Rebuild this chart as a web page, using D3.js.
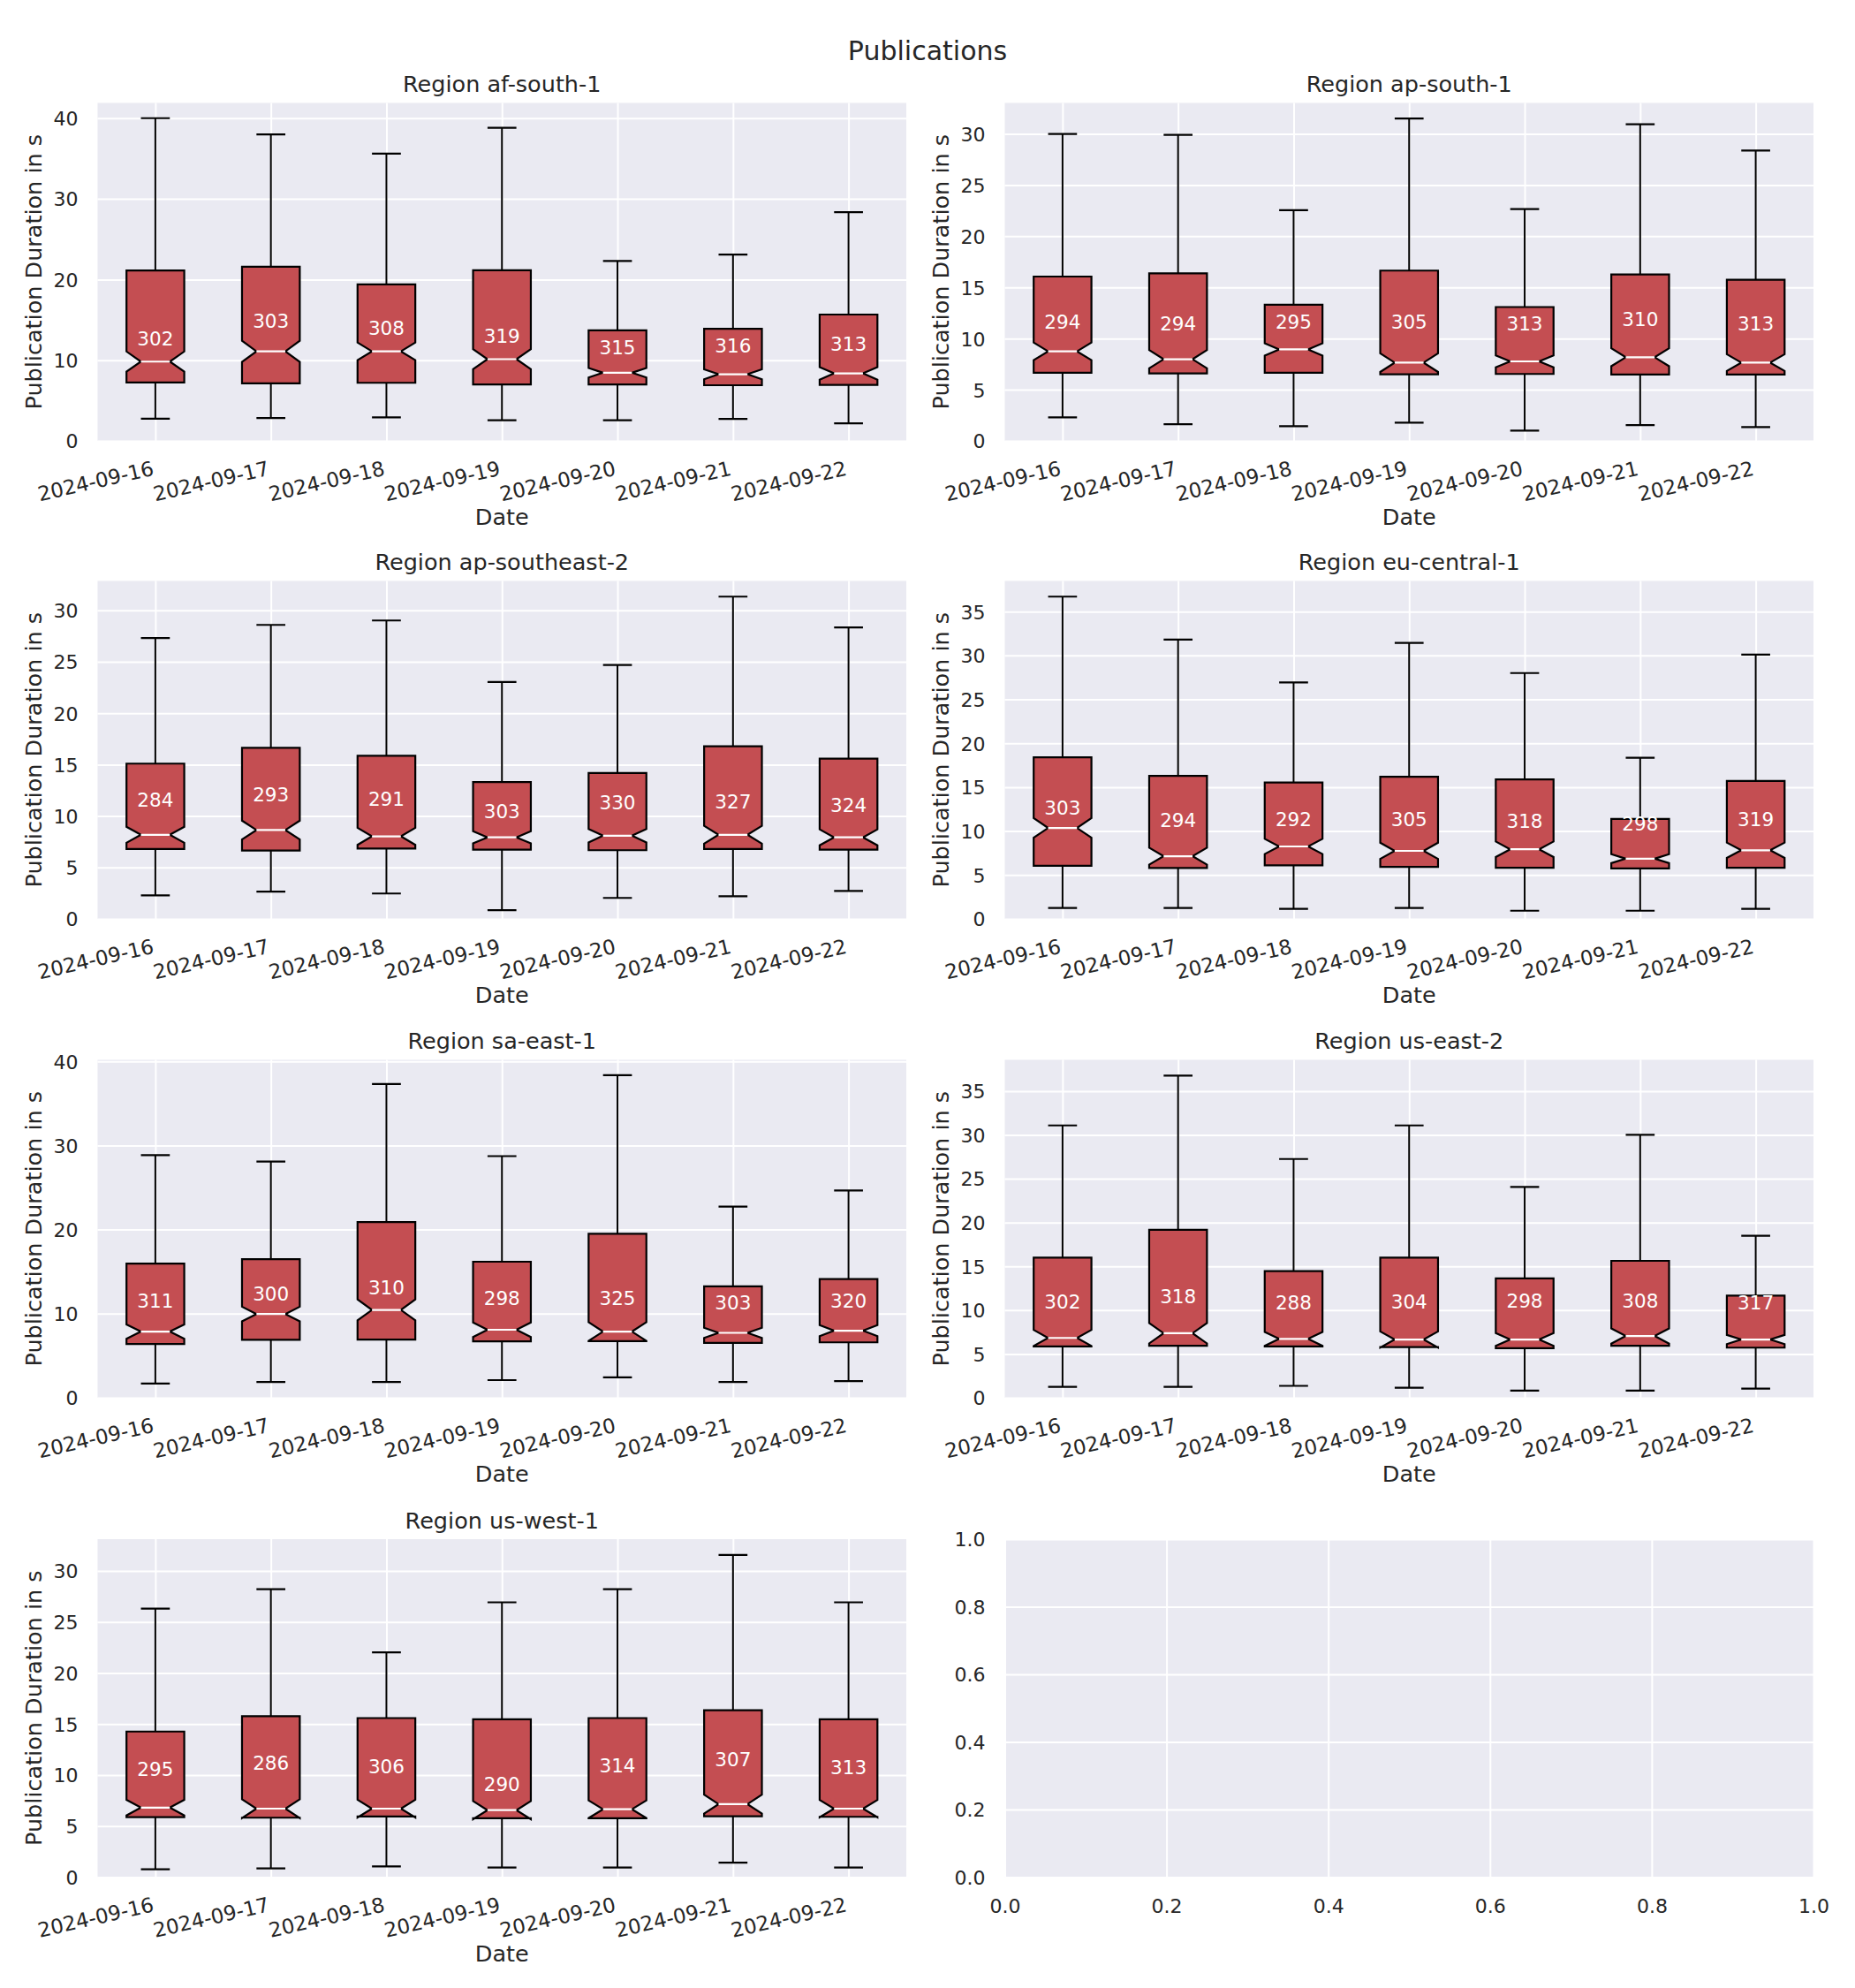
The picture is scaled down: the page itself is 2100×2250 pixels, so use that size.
<!DOCTYPE html>
<html><head><meta charset="utf-8">
<script src="https://cdn.jsdelivr.net/npm/d3@7"></script>
<style>
body{margin:0;background:#fff}
text{font-family:"DejaVu Sans",sans-serif}
</style>
</head><body>
<svg id="chart" width="2100" height="2250"></svg>
<script>
// ---------------- DATA ----------------
const chartTitle = "Publications";
const regions = ["af-south-1","ap-south-1","ap-southeast-2","eu-central-1","sa-east-1","us-east-2","us-west-1"];
const dates = ["2024-09-16","2024-09-17","2024-09-18","2024-09-19","2024-09-20","2024-09-21","2024-09-22"];

// upper whisker end (s)
const whiskerHigh = [
  [40.0, 38.0, 35.6, 38.8, 22.3, 23.1, 28.35],
  [30.0, 29.9, 22.54, 31.5, 22.66, 30.95, 28.37],
  [27.31, 28.59, 29.02, 23.04, 24.69, 31.34, 28.35],
  [36.7, 31.8, 26.93, 31.43, 28.0, 18.36, 30.1],
  [28.84, 28.09, 37.3, 28.73, 38.35, 22.73, 24.64],
  [31.08, 36.77, 27.25, 31.08, 24.07, 30.0, 18.49],
  [26.3, 28.21, 22.02, 26.92, 28.21, 31.57, 26.92]
];
// third quartile
const q3 = [
  [21.12, 21.58, 19.4, 21.15, 13.7, 13.9, 15.66],
  [16.06, 16.37, 13.3, 16.64, 13.08, 16.27, 15.75],
  [15.1, 16.63, 15.87, 13.3, 14.19, 16.78, 15.59],
  [18.4, 16.29, 15.54, 16.18, 15.89, 11.39, 15.71],
  [15.96, 16.48, 20.9, 16.18, 19.51, 13.26, 14.12],
  [15.99, 19.17, 14.45, 15.99, 13.63, 15.63, 11.66],
  [14.26, 15.77, 15.58, 15.46, 15.58, 16.35, 15.46]
];
// median
const median = [
  [9.83, 11.1, 11.1, 10.13, 8.45, 8.26, 8.37],
  [8.75, 7.98, 8.94, 7.65, 7.77, 8.17, 7.65],
  [8.18, 8.64, 8.03, 7.93, 8.09, 8.18, 7.93],
  [10.36, 7.14, 8.25, 7.75, 7.93, 6.86, 7.82],
  [7.87, 9.96, 10.45, 8.09, 7.87, 7.72, 7.98],
  [6.83, 7.37, 6.72, 6.65, 6.65, 7.05, 6.65],
  [6.81, 6.71, 6.71, 6.56, 6.65, 7.15, 6.71]
];
// first quartile
const q1 = [
  [7.25, 7.14, 7.2, 7.0, 7.0, 6.9, 6.93],
  [6.66, 6.6, 6.66, 6.5, 6.54, 6.48, 6.48],
  [6.8, 6.65, 6.84, 6.74, 6.68, 6.8, 6.74],
  [6.04, 5.79, 6.1, 5.93, 5.82, 5.75, 5.82],
  [6.4, 6.89, 6.93, 6.7, 6.74, 6.52, 6.59],
  [5.87, 5.94, 5.87, 5.79, 5.65, 5.94, 5.72],
  [5.88, 5.82, 5.94, 5.76, 5.76, 5.97, 5.91]
];
// lower whisker end
const whiskerLow = [
  [2.75, 2.83, 2.92, 2.57, 2.57, 2.73, 2.18],
  [2.3, 1.63, 1.44, 1.78, 1.01, 1.54, 1.35],
  [2.29, 2.65, 2.47, 0.85, 2.04, 2.2, 2.72],
  [1.25, 1.25, 1.14, 1.25, 0.93, 0.93, 1.14],
  [1.69, 1.87, 1.87, 2.1, 2.43, 1.87, 1.99],
  [1.25, 1.25, 1.36, 1.14, 0.82, 0.82, 1.04],
  [0.77, 0.86, 1.05, 0.95, 0.95, 1.42, 0.95]
];
// number of publications per box
const counts = [
  [302, 303, 308, 319, 315, 316, 313],
  [294, 294, 295, 305, 313, 310, 313],
  [284, 293, 291, 303, 330, 327, 324],
  [303, 294, 292, 305, 318, 298, 319],
  [311, 300, 310, 298, 325, 303, 320],
  [302, 318, 288, 304, 298, 308, 317],
  [295, 286, 306, 290, 314, 307, 313]
];
// mean duration (where the count label sits)
const means = [
  [12.7, 14.85, 14.0, 13.05, 11.6, 11.8, 12.07],
  [11.6, 11.45, 11.67, 11.67, 11.45, 11.9, 11.45],
  [11.57, 12.08, 11.63, 10.44, 11.35, 11.41, 11.02],
  [12.68, 11.25, 11.32, 11.32, 11.18, 10.82, 11.39],
  [11.5, 12.32, 13.15, 11.8, 11.8, 11.27, 11.5],
  [10.94, 11.55, 10.84, 10.94, 11.05, 11.05, 10.84],
  [10.56, 11.15, 10.84, 9.09, 10.93, 11.55, 10.75]
];
// y tick labels per region
const yTicks = [
  [0, 10, 20, 30, 40],
  [0, 5, 10, 15, 20, 25, 30],
  [0, 5, 10, 15, 20, 25, 30],
  [0, 5, 10, 15, 20, 25, 30, 35],
  [0, 10, 20, 30, 40],
  [0, 5, 10, 15, 20, 25, 30, 35],
  [0, 5, 10, 15, 20, 25, 30]
];
const emptyTicks = [0.0, 0.2, 0.4, 0.6, 0.8, 1.0];
const xLabel = "Date";
const yLabel = "Publication Duration in s";

// ---------------- LAYOUT ----------------
const svg = d3.select("#chart");
const colLeft = [110.5, 1137.5];
const rowTop = [116.5, 657.5, 1199.5, 1742];
const W = 915.5, H = 382.5;
const TXT = "#262626", BG = "#EAEAF2", BOX = "#C44E52";
const tickFont = 22, xTickFont = 23, labelFont = 25.5, countFont = 21.5;

svg.append("text").attr("x", 1050).attr("y", 68).attr("text-anchor", "middle")
  .attr("font-size", 30).attr("fill", TXT).text(chartTitle);

function styleAxis(g) {
  g.select(".domain").remove();
  g.attr("font-family", null).attr("font-size", null);
  g.selectAll("text").attr("fill", TXT).attr("font-size", tickFont);
}
function whiteGrid(s) {
  s.select(".domain").remove();
  s.selectAll("line").attr("stroke", "#fff").attr("stroke-width", 2);
}

function panel(idx) {
  const col = idx % 2, row = Math.floor(idx / 2);
  const g = svg.append("g").attr("transform", `translate(${colLeft[col]},${rowTop[row]})`);
  g.append("rect").attr("width", W).attr("height", H).attr("fill", BG);

  if (idx >= regions.length) {
    const x = d3.scaleLinear().domain([0, 1]).range([0, W]);
    const y = d3.scaleLinear().domain([0, 1]).range([H, 0]);
    g.append("g").call(d3.axisLeft(y).tickValues(emptyTicks).tickSize(-W).tickFormat("")).call(whiteGrid);
    g.append("g").attr("transform", `translate(0,${H})`)
      .call(d3.axisBottom(x).tickValues(emptyTicks).tickSize(-H).tickFormat("")).call(whiteGrid);
    g.append("g").call(d3.axisLeft(y).tickValues(emptyTicks).tickSize(0).tickPadding(22).tickFormat(d3.format(".1f")))
      .call(styleAxis).call(s => s.selectAll("text").attr("dy", "0.36em"));
    g.append("g").attr("transform", `translate(0,${H})`)
      .call(d3.axisBottom(x).tickValues(emptyTicks).tickSize(0).tickPadding(24).tickFormat(d3.format(".1f")))
      .call(styleAxis).call(s => s.selectAll("text").attr("dy", "0.73em"));
    return;
  }

  const hiMax = d3.max(whiskerHigh[idx]), loMin = d3.min(whiskerLow[idx]);
  const yTop = hiMax + 0.05 * (hiMax - loMin);
  const x = d3.scaleLinear().domain([0.5, dates.length + 0.5]).range([0, W]);
  const y = d3.scaleLinear().domain([0, yTop]).range([H, 0]);
  const pos = dates.map((d, i) => i + 1);

  // grid
  g.append("g").call(d3.axisLeft(y).tickValues(yTicks[idx]).tickSize(-W).tickFormat("")).call(whiteGrid);
  g.append("g").attr("transform", `translate(0,${H})`)
    .call(d3.axisBottom(x).tickValues(pos).tickSize(-H).tickFormat("")).call(whiteGrid);

  // tick labels
  g.append("g").call(d3.axisLeft(y).tickValues(yTicks[idx]).tickSize(0).tickPadding(22))
    .call(styleAxis).call(s => s.selectAll("text").attr("dy", "0.36em"));
  g.append("g").attr("transform", `translate(0,${H})`)
    .call(d3.axisBottom(x).tickValues(pos).tickSize(0).tickPadding(0).tickFormat((d, i) => dates[i]))
    .call(styleAxis)
    .call(s => s.selectAll("text").attr("font-size", xTickFont).attr("y", 0).attr("dy", "0.73em").attr("text-anchor", "end")
      .attr("transform", "translate(-5,22) rotate(-13)"));

  // axis labels & title
  g.append("text").attr("x", W / 2).attr("y", -12.5).attr("text-anchor", "middle")
    .attr("font-size", labelFont).attr("fill", TXT).text("Region " + regions[idx]);
  g.append("text").attr("x", W / 2).attr("y", H + 86).attr("dy", "0.36em").attr("text-anchor", "middle")
    .attr("font-size", labelFont).attr("fill", TXT).text(xLabel);
  g.append("text").attr("transform", `translate(-73,${H / 2}) rotate(-90)`).attr("dy", "0.36em")
    .attr("text-anchor", "middle").attr("font-size", labelFont).attr("fill", TXT).text(yLabel);

  // boxes
  const bw = 0.5, cw = 0.25;
  const stats = pos.map((p, i) => {
    const iqr = q3[idx][i] - q1[idx][i];
    const half = 1.57 * iqr / Math.sqrt(counts[idx][i]);
    return { p, q1: q1[idx][i], q3: q3[idx][i], med: median[idx][i], lo: whiskerLow[idx][i], hi: whiskerHigh[idx][i],
      nlo: median[idx][i] - half, nhi: median[idx][i] + half, n: counts[idx][i], mean: means[idx][i] };
  });
  const line = d3.line().x(d => x(d[0])).y(d => y(d[1]));
  const bg = g.append("g");
  stats.forEach(s => {
    const L = s.p - bw / 2, R = s.p + bw / 2, cl = s.p - cw / 2, cr = s.p + cw / 2;
    bg.append("path").attr("d", line([[s.p, s.q1], [s.p, s.lo]])).attr("stroke", "#000").attr("stroke-width", 2).attr("fill", "none");
    bg.append("path").attr("d", line([[s.p, s.q3], [s.p, s.hi]])).attr("stroke", "#000").attr("stroke-width", 2).attr("fill", "none");
    bg.append("path").attr("d", line([[cl, s.lo], [cr, s.lo]])).attr("stroke", "#000").attr("stroke-width", 2.2).attr("fill", "none");
    bg.append("path").attr("d", line([[cl, s.hi], [cr, s.hi]])).attr("stroke", "#000").attr("stroke-width", 2.2).attr("fill", "none");
    const pts = [[L, s.q1], [R, s.q1], [R, s.nlo], [cr, s.med], [R, s.nhi], [R, s.q3], [L, s.q3], [L, s.nhi], [cl, s.med], [L, s.nlo], [L, s.q1]];
    bg.append("path").attr("d", line(pts) + "Z").attr("fill", BOX).attr("stroke", "#000").attr("stroke-width", 2.2)
      .attr("stroke-linejoin", "miter");
    bg.append("path").attr("d", line([[cl, s.med], [cr, s.med]])).attr("stroke", "#fff").attr("stroke-width", 2.2);
    bg.append("text").attr("x", x(s.p)).attr("y", y(s.mean)).attr("dy", "0.36em").attr("text-anchor", "middle")
      .attr("fill", "#fff").attr("font-size", countFont).text(s.n);
  });
}

for (let i = 0; i < 8; i++) panel(i);
</script>
</body></html>
